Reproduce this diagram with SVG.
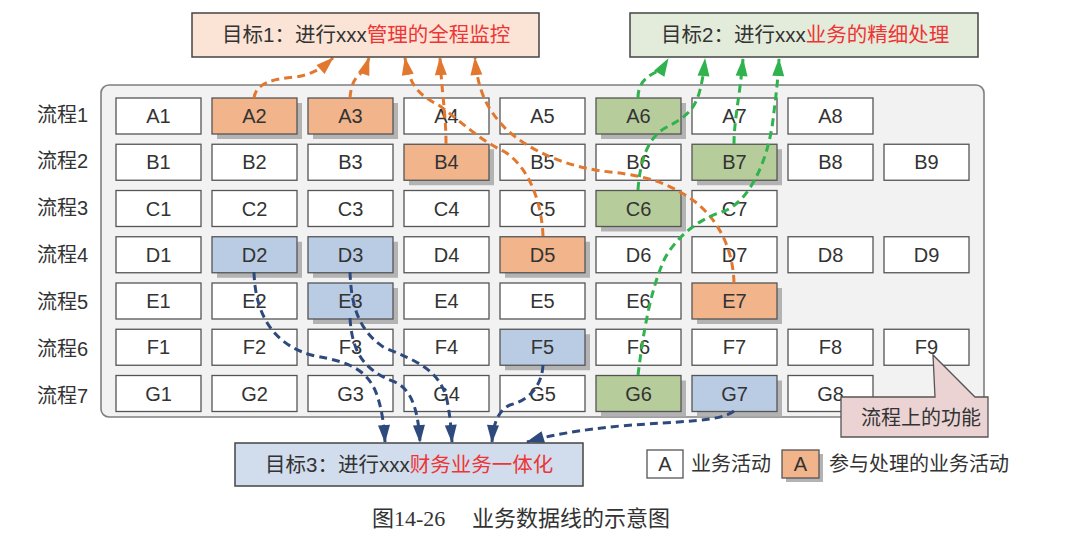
<svg xmlns="http://www.w3.org/2000/svg" width="1086" height="543" viewBox="0 0 1086 543">
<style>
text{font-family:"Liberation Sans","Noto Sans CJK SC",sans-serif;fill:#333}
.t{font-size:20px;text-anchor:middle}
.lbl{font-size:20px}
.goal{font-size:20.5px}
.red{fill:#ee3535}
.box{stroke:#555;stroke-width:1.3}
.w{fill:#fff}
.o{fill:#f1b48b}
.gr{fill:#b6cc9b}
.bl{fill:#b9cce4}
.sh{fill:#b3b3b3}
.c{fill:none;stroke-width:3;stroke-dasharray:8 5}
.co{stroke:#e2782f}
.cg{stroke:#30b24e}
.cb{stroke:#2e4a7d}
</style>
<defs>
<marker id="ao" markerUnits="userSpaceOnUse" markerWidth="18" markerHeight="12" refX="17" refY="6" orient="auto" overflow="visible"><path d="M0,0 L18,6 L0,12 Z" fill="#e2782f"/></marker>
<marker id="ag" markerUnits="userSpaceOnUse" markerWidth="18" markerHeight="12" refX="17" refY="6" orient="auto" overflow="visible"><path d="M0,0 L18,6 L0,12 Z" fill="#30b24e"/></marker>
<marker id="ab" markerUnits="userSpaceOnUse" markerWidth="18" markerHeight="12" refX="17" refY="6" orient="auto" overflow="visible"><path d="M0,0 L18,6 L0,12 Z" fill="#2e4a7d"/></marker>
</defs>
<rect width="1086" height="543" fill="#fff"/>
<g id="panel"><rect x="101" y="85" width="883" height="332" rx="8" fill="#f2f2f2" stroke="#7f7f7f" stroke-width="1.6"/></g>
<g id="rowlabels">
<text class="lbl" x="37" y="121.5">流程1</text>
<text class="lbl" x="37" y="168.4">流程2</text>
<text class="lbl" x="37" y="215.3">流程3</text>
<text class="lbl" x="37" y="262.2">流程4</text>
<text class="lbl" x="37" y="309.1">流程5</text>
<text class="lbl" x="37" y="356">流程6</text>
<text class="lbl" x="37" y="402.9">流程7</text>
</g>
<g id="nodes">
<g id="A1"><rect class="box w" x="116" y="98" width="85" height="36"/><text class="t" x="158.5" y="123">A1</text></g>
<g id="A2"><rect class="sh" x="217" y="103" width="85" height="36"/><rect class="box o" x="212" y="98" width="85" height="36"/><text class="t" x="254.5" y="123">A2</text></g>
<g id="A3"><rect class="sh" x="313" y="103" width="85" height="36"/><rect class="box o" x="308" y="98" width="85" height="36"/><text class="t" x="350.5" y="123">A3</text></g>
<g id="A4"><rect class="box w" x="404" y="98" width="85" height="36"/><text class="t" x="446.5" y="123">A4</text></g>
<g id="A5"><rect class="box w" x="500" y="98" width="85" height="36"/><text class="t" x="542.5" y="123">A5</text></g>
<g id="A6"><rect class="sh" x="601" y="103" width="85" height="36"/><rect class="box gr" x="596" y="98" width="85" height="36"/><text class="t" x="638.5" y="123">A6</text></g>
<g id="A7"><rect class="box w" x="692" y="98" width="85" height="36"/><text class="t" x="734.5" y="123">A7</text></g>
<g id="A8"><rect class="box w" x="788" y="98" width="85" height="36"/><text class="t" x="830.5" y="123">A8</text></g>

<g id="B1"><rect class="box w" x="116" y="144.25" width="85" height="36"/><text class="t" x="158.5" y="169.25">B1</text></g>
<g id="B2"><rect class="box w" x="212" y="144.25" width="85" height="36"/><text class="t" x="254.5" y="169.25">B2</text></g>
<g id="B3"><rect class="box w" x="308" y="144.25" width="85" height="36"/><text class="t" x="350.5" y="169.25">B3</text></g>
<g id="B4"><rect class="sh" x="409" y="149.25" width="85" height="36"/><rect class="box o" x="404" y="144.25" width="85" height="36"/><text class="t" x="446.5" y="169.25">B4</text></g>
<g id="B5"><rect class="box w" x="500" y="144.25" width="85" height="36"/><text class="t" x="542.5" y="169.25">B5</text></g>
<g id="B6"><rect class="box w" x="596" y="144.25" width="85" height="36"/><text class="t" x="638.5" y="169.25">B6</text></g>
<g id="B7"><rect class="sh" x="697" y="149.25" width="85" height="36"/><rect class="box gr" x="692" y="144.25" width="85" height="36"/><text class="t" x="734.5" y="169.25">B7</text></g>
<g id="B8"><rect class="box w" x="788" y="144.25" width="85" height="36"/><text class="t" x="830.5" y="169.25">B8</text></g>
<g id="B9"><rect class="box w" x="884" y="144.25" width="85" height="36"/><text class="t" x="926.5" y="169.25">B9</text></g>

<g id="C1"><rect class="box w" x="116" y="190.5" width="85" height="36"/><text class="t" x="158.5" y="215.5">C1</text></g>
<g id="C2"><rect class="box w" x="212" y="190.5" width="85" height="36"/><text class="t" x="254.5" y="215.5">C2</text></g>
<g id="C3"><rect class="box w" x="308" y="190.5" width="85" height="36"/><text class="t" x="350.5" y="215.5">C3</text></g>
<g id="C4"><rect class="box w" x="404" y="190.5" width="85" height="36"/><text class="t" x="446.5" y="215.5">C4</text></g>
<g id="C5"><rect class="box w" x="500" y="190.5" width="85" height="36"/><text class="t" x="542.5" y="215.5">C5</text></g>
<g id="C6"><rect class="sh" x="601" y="195.5" width="85" height="36"/><rect class="box gr" x="596" y="190.5" width="85" height="36"/><text class="t" x="638.5" y="215.5">C6</text></g>
<g id="C7"><rect class="box w" x="692" y="190.5" width="85" height="36"/><text class="t" x="734.5" y="215.5">C7</text></g>

<g id="D1"><rect class="box w" x="116" y="236.75" width="85" height="36"/><text class="t" x="158.5" y="261.75">D1</text></g>
<g id="D2"><rect class="sh" x="217" y="241.75" width="85" height="36"/><rect class="box bl" x="212" y="236.75" width="85" height="36"/><text class="t" x="254.5" y="261.75">D2</text></g>
<g id="D3"><rect class="sh" x="313" y="241.75" width="85" height="36"/><rect class="box bl" x="308" y="236.75" width="85" height="36"/><text class="t" x="350.5" y="261.75">D3</text></g>
<g id="D4"><rect class="box w" x="404" y="236.75" width="85" height="36"/><text class="t" x="446.5" y="261.75">D4</text></g>
<g id="D5"><rect class="sh" x="505" y="241.75" width="85" height="36"/><rect class="box o" x="500" y="236.75" width="85" height="36"/><text class="t" x="542.5" y="261.75">D5</text></g>
<g id="D6"><rect class="box w" x="596" y="236.75" width="85" height="36"/><text class="t" x="638.5" y="261.75">D6</text></g>
<g id="D7"><rect class="box w" x="692" y="236.75" width="85" height="36"/><text class="t" x="734.5" y="261.75">D7</text></g>
<g id="D8"><rect class="box w" x="788" y="236.75" width="85" height="36"/><text class="t" x="830.5" y="261.75">D8</text></g>
<g id="D9"><rect class="box w" x="884" y="236.75" width="85" height="36"/><text class="t" x="926.5" y="261.75">D9</text></g>

<g id="E1"><rect class="box w" x="116" y="283" width="85" height="36"/><text class="t" x="158.5" y="308">E1</text></g>
<g id="E2"><rect class="box w" x="212" y="283" width="85" height="36"/><text class="t" x="254.5" y="308">E2</text></g>
<g id="E3"><rect class="sh" x="313" y="288" width="85" height="36"/><rect class="box bl" x="308" y="283" width="85" height="36"/><text class="t" x="350.5" y="308">E3</text></g>
<g id="E4"><rect class="box w" x="404" y="283" width="85" height="36"/><text class="t" x="446.5" y="308">E4</text></g>
<g id="E5"><rect class="box w" x="500" y="283" width="85" height="36"/><text class="t" x="542.5" y="308">E5</text></g>
<g id="E6"><rect class="box w" x="596" y="283" width="85" height="36"/><text class="t" x="638.5" y="308">E6</text></g>
<g id="E7"><rect class="sh" x="697" y="288" width="85" height="36"/><rect class="box o" x="692" y="283" width="85" height="36"/><text class="t" x="734.5" y="308">E7</text></g>

<g id="F1"><rect class="box w" x="116" y="329.25" width="85" height="36"/><text class="t" x="158.5" y="354.25">F1</text></g>
<g id="F2"><rect class="box w" x="212" y="329.25" width="85" height="36"/><text class="t" x="254.5" y="354.25">F2</text></g>
<g id="F3"><rect class="box w" x="308" y="329.25" width="85" height="36"/><text class="t" x="350.5" y="354.25">F3</text></g>
<g id="F4"><rect class="box w" x="404" y="329.25" width="85" height="36"/><text class="t" x="446.5" y="354.25">F4</text></g>
<g id="F5"><rect class="sh" x="505" y="334.25" width="85" height="36"/><rect class="box bl" x="500" y="329.25" width="85" height="36"/><text class="t" x="542.5" y="354.25">F5</text></g>
<g id="F6"><rect class="box w" x="596" y="329.25" width="85" height="36"/><text class="t" x="638.5" y="354.25">F6</text></g>
<g id="F7"><rect class="box w" x="692" y="329.25" width="85" height="36"/><text class="t" x="734.5" y="354.25">F7</text></g>
<g id="F8"><rect class="box w" x="788" y="329.25" width="85" height="36"/><text class="t" x="830.5" y="354.25">F8</text></g>
<g id="F9"><rect class="box w" x="884" y="329.25" width="85" height="36"/><text class="t" x="926.5" y="354.25">F9</text></g>

<g id="G1"><rect class="box w" x="116" y="375.5" width="85" height="36"/><text class="t" x="158.5" y="400.5">G1</text></g>
<g id="G2"><rect class="box w" x="212" y="375.5" width="85" height="36"/><text class="t" x="254.5" y="400.5">G2</text></g>
<g id="G3"><rect class="box w" x="308" y="375.5" width="85" height="36"/><text class="t" x="350.5" y="400.5">G3</text></g>
<g id="G4"><rect class="box w" x="404" y="375.5" width="85" height="36"/><text class="t" x="446.5" y="400.5">G4</text></g>
<g id="G5"><rect class="box w" x="500" y="375.5" width="85" height="36"/><text class="t" x="542.5" y="400.5">G5</text></g>
<g id="G6"><rect class="sh" x="601" y="380.5" width="85" height="36"/><rect class="box gr" x="596" y="375.5" width="85" height="36"/><text class="t" x="638.5" y="400.5">G6</text></g>
<g id="G7"><rect class="sh" x="697" y="380.5" width="85" height="36"/><rect class="box bl" x="692" y="375.5" width="85" height="36"/><text class="t" x="734.5" y="400.5">G7</text></g>
<g id="G8"><rect class="box w" x="788" y="375.5" width="85" height="36"/><text class="t" x="830.5" y="400.5">G8</text></g>
</g>
<g id="connectors">
<path class="c co" marker-end="url(#ao)" d="M254,98 C256,82 275,79 295,77 C310,75 320,70 333,58"/>
<path class="c co" marker-end="url(#ao)" d="M350,98 C351,84 355,78 360,74 C364,70 367,64 369,58"/>
<path class="c co" marker-end="url(#ao)" d="M543,236 C542,205 530,168 505,152 C480,140 465,125 440,106 C420,95 410,88 405,58"/>
<path class="c co" marker-end="url(#ao)" d="M446,144 C446,115 442,95 440,58"/>
<path class="c co" marker-end="url(#ao)" d="M734,283 C733,245 715,215 690,198 C670,185 650,176 610,172 C570,168 530,152 505,128 C490,112 478,95 475,58"/>
<path class="c cg" marker-end="url(#ag)" d="M638,98 C638,82 648,76 656,72 C662,69 665,64 668,59"/>
<path class="c cg" marker-end="url(#ag)" d="M638,190 C640,160 648,138 665,128 C685,118 695,110 700,90 C703,78 704,70 705,59"/>
<path class="c cg" marker-end="url(#ag)" d="M734,144 C734,120 740,95 743,59"/>
<path class="c cg" marker-end="url(#ag)" d="M638,375 C643,335 650,290 665,258 C678,235 700,218 725,211 C750,200 768,160 773,120 C776,95 778,80 779,59"/>
<path class="c cb" marker-end="url(#ab)" d="M254,272 C255,310 270,345 315,356 C350,362 368,370 377,395 C382,410 384,425 385,442"/>
<path class="c cb" marker-end="url(#ab)" d="M350,272 C351,300 356,330 385,348 C415,360 440,370 447,400 C450,415 451,428 452,442"/>
<path class="c cb" marker-end="url(#ab)" d="M350,318 C352,350 362,370 395,382 C412,390 418,410 420,442"/>
<path class="c cb" marker-end="url(#ab)" d="M543,365 C542,385 530,400 510,405 C498,410 493,425 492,442"/>
<path class="c cb" marker-end="url(#ab)" d="M734,411 C720,422 680,421 620,426 C580,430 550,435 527,442"/>
</g>
<g id="goal1"><rect x="192" y="13" width="347" height="44" fill="#fbe4d5" stroke="#444" stroke-width="1.5"/><text class="goal" x="222" y="42">目标1：进行xxx<tspan class="red">管理的全程监控</tspan></text></g>
<g id="goal2"><rect x="630" y="13" width="348" height="44" fill="#e3ebda" stroke="#444" stroke-width="1.5"/><text class="goal" x="661" y="42">目标2：进行xxx<tspan class="red">业务的精细处理</tspan></text></g>
<g id="goal3"><rect x="235" y="443" width="348" height="43" fill="#d1dcec" stroke="#444" stroke-width="1.5"/><text class="goal" x="265" y="472">目标3：进行xxx<tspan class="red">财务业务一体化</tspan></text></g>
<g id="callout"><path d="M841,397 L935,397 L933,355 L975,397 L988,397 L988,437 L841,437 Z" fill="#ebd3d3" stroke="#555" stroke-width="1.3"/><text class="lbl" x="861" y="425">流程上的功能</text></g>
<g id="legend">
<rect class="box w" x="647" y="450" width="36" height="28"/><text class="t" x="665" y="471">A</text>
<text class="lbl" x="691" y="471">业务活动</text>
<rect class="sh" x="786" y="454" width="37" height="28"/><rect class="box o" x="782" y="450" width="37" height="28"/><text class="t" x="800.5" y="471">A</text>
<text class="lbl" x="829" y="471">参与处理的业务活动</text>
</g>
<g id="caption">
<text x="372" y="526" style="font-family:'Liberation Serif','Noto Sans CJK SC',serif;font-size:22px">图14-26</text>
<text x="472" y="526" style="font-size:22px">业务数据线的示意图</text>
</g>
</svg>
